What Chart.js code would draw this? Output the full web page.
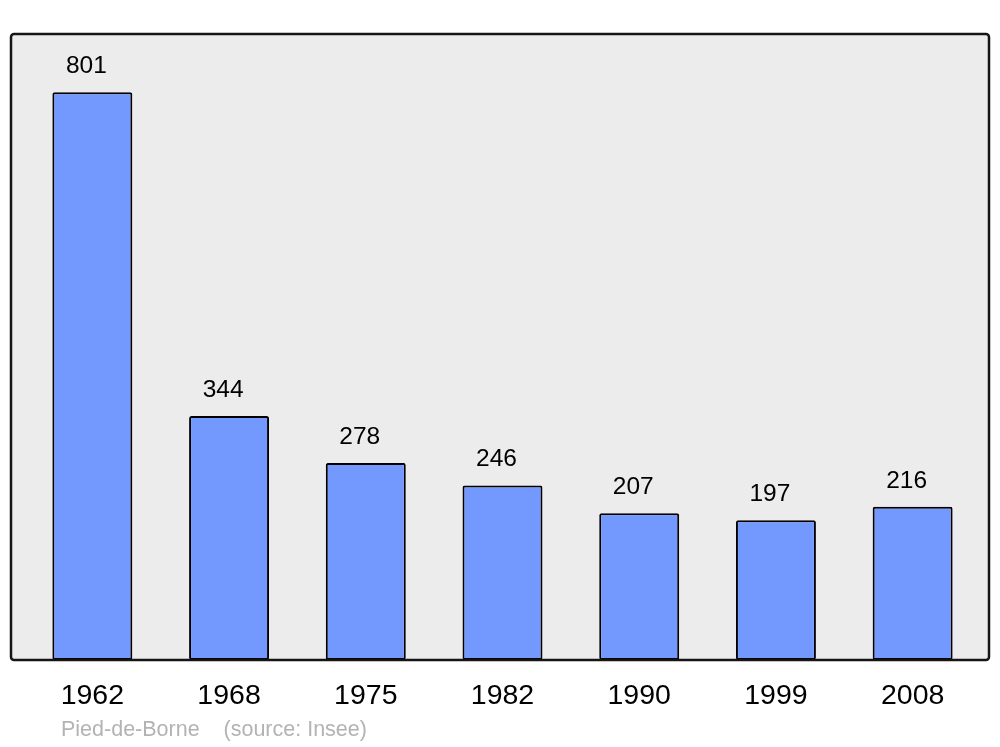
<!DOCTYPE html>
<html>
<head>
<meta charset="utf-8">
<script src="https://cdn.jsdelivr.net/npm/chart.js@4"></script>
<style>
html,body{margin:0;padding:0;background:#fff;}
#wrap{width:1000px;height:747px;position:relative;}
</style>
</head>
<body>
<div id="wrap"><canvas id="c" width="1000" height="747"></canvas></div>
<script>
const years = ["1962", "1968", "1975", "1982", "1990", "1999", "2008"];
const population = [801, 344, 278, 246, 207, 197, 216];
const sourceText = "Pied-de-Borne    (source: Insee)";
const yMax = 883;

const framePlugin = {
  id: 'frame',
  beforeDatasetsDraw(chart) {
    const ctx = chart.ctx, a = chart.chartArea;
    ctx.save();
    ctx.fillStyle = '#ececec';
    ctx.beginPath();
    ctx.roundRect(a.left - 13, a.top, (a.right + 8) - (a.left - 13), a.bottom - a.top, 3);
    ctx.fill();
    ctx.restore();
  },
  afterDatasetsDraw(chart) {
    const ctx = chart.ctx, a = chart.chartArea;
    ctx.save();
    ctx.strokeStyle = '#151515';
    ctx.lineWidth = 2.5;
    ctx.beginPath();
    ctx.roundRect(a.left - 13, a.top, (a.right + 8) - (a.left - 13), a.bottom - a.top, 3);
    ctx.stroke();
    // value labels
    const meta = chart.getDatasetMeta(0);
    ctx.fillStyle = '#000';
    ctx.font = '24.5px "Liberation Sans", Arial, sans-serif';
    ctx.textAlign = 'center';
    ctx.textBaseline = 'middle';
    meta.data.forEach((bar, i) => {
      ctx.fillText(String(population[i]), bar.x - 6, bar.y - 26);
    });
    // source
    ctx.fillStyle = '#b3b3b3';
    ctx.font = '21.5px "Liberation Sans", Arial, sans-serif';
    ctx.textAlign = 'left';
    ctx.fillText(sourceText, a.left + 37, 730);
    ctx.restore();
  }
};

new Chart(document.getElementById('c'), {
  type: 'bar',
  data: {
    labels: years,
    datasets: [{
      data: population,
      backgroundColor: '#7399ff',
      borderColor: '#000',
      borderWidth: 2,
      borderRadius: 2,
      borderSkipped: false,
      barPercentage: 0.585,
      categoryPercentage: 1
    }]
  },
  options: {
    responsive: false,
    animation: false,
    devicePixelRatio: 1,
    layout: { padding: { left: 24, right: 19, top: 34, bottom: 0 } },
    plugins: { legend: { display: false }, tooltip: { enabled: false }, title: { display: false } },
    scales: {
      x: {
        offset: true,
        grid: { display: false, drawTicks: false },
        border: { display: false },
        ticks: {
          color: '#000',
          font: { family: '"Liberation Sans", Arial, sans-serif', size: 28.5 },
          padding: 19,
          maxRotation: 0
        },
        afterFit(s) { s.height = 87; }
      },
      y: {
        display: false,
        min: 0,
        max: yMax
      }
    }
  },
  plugins: [framePlugin]
});
</script>
</body>
</html>
